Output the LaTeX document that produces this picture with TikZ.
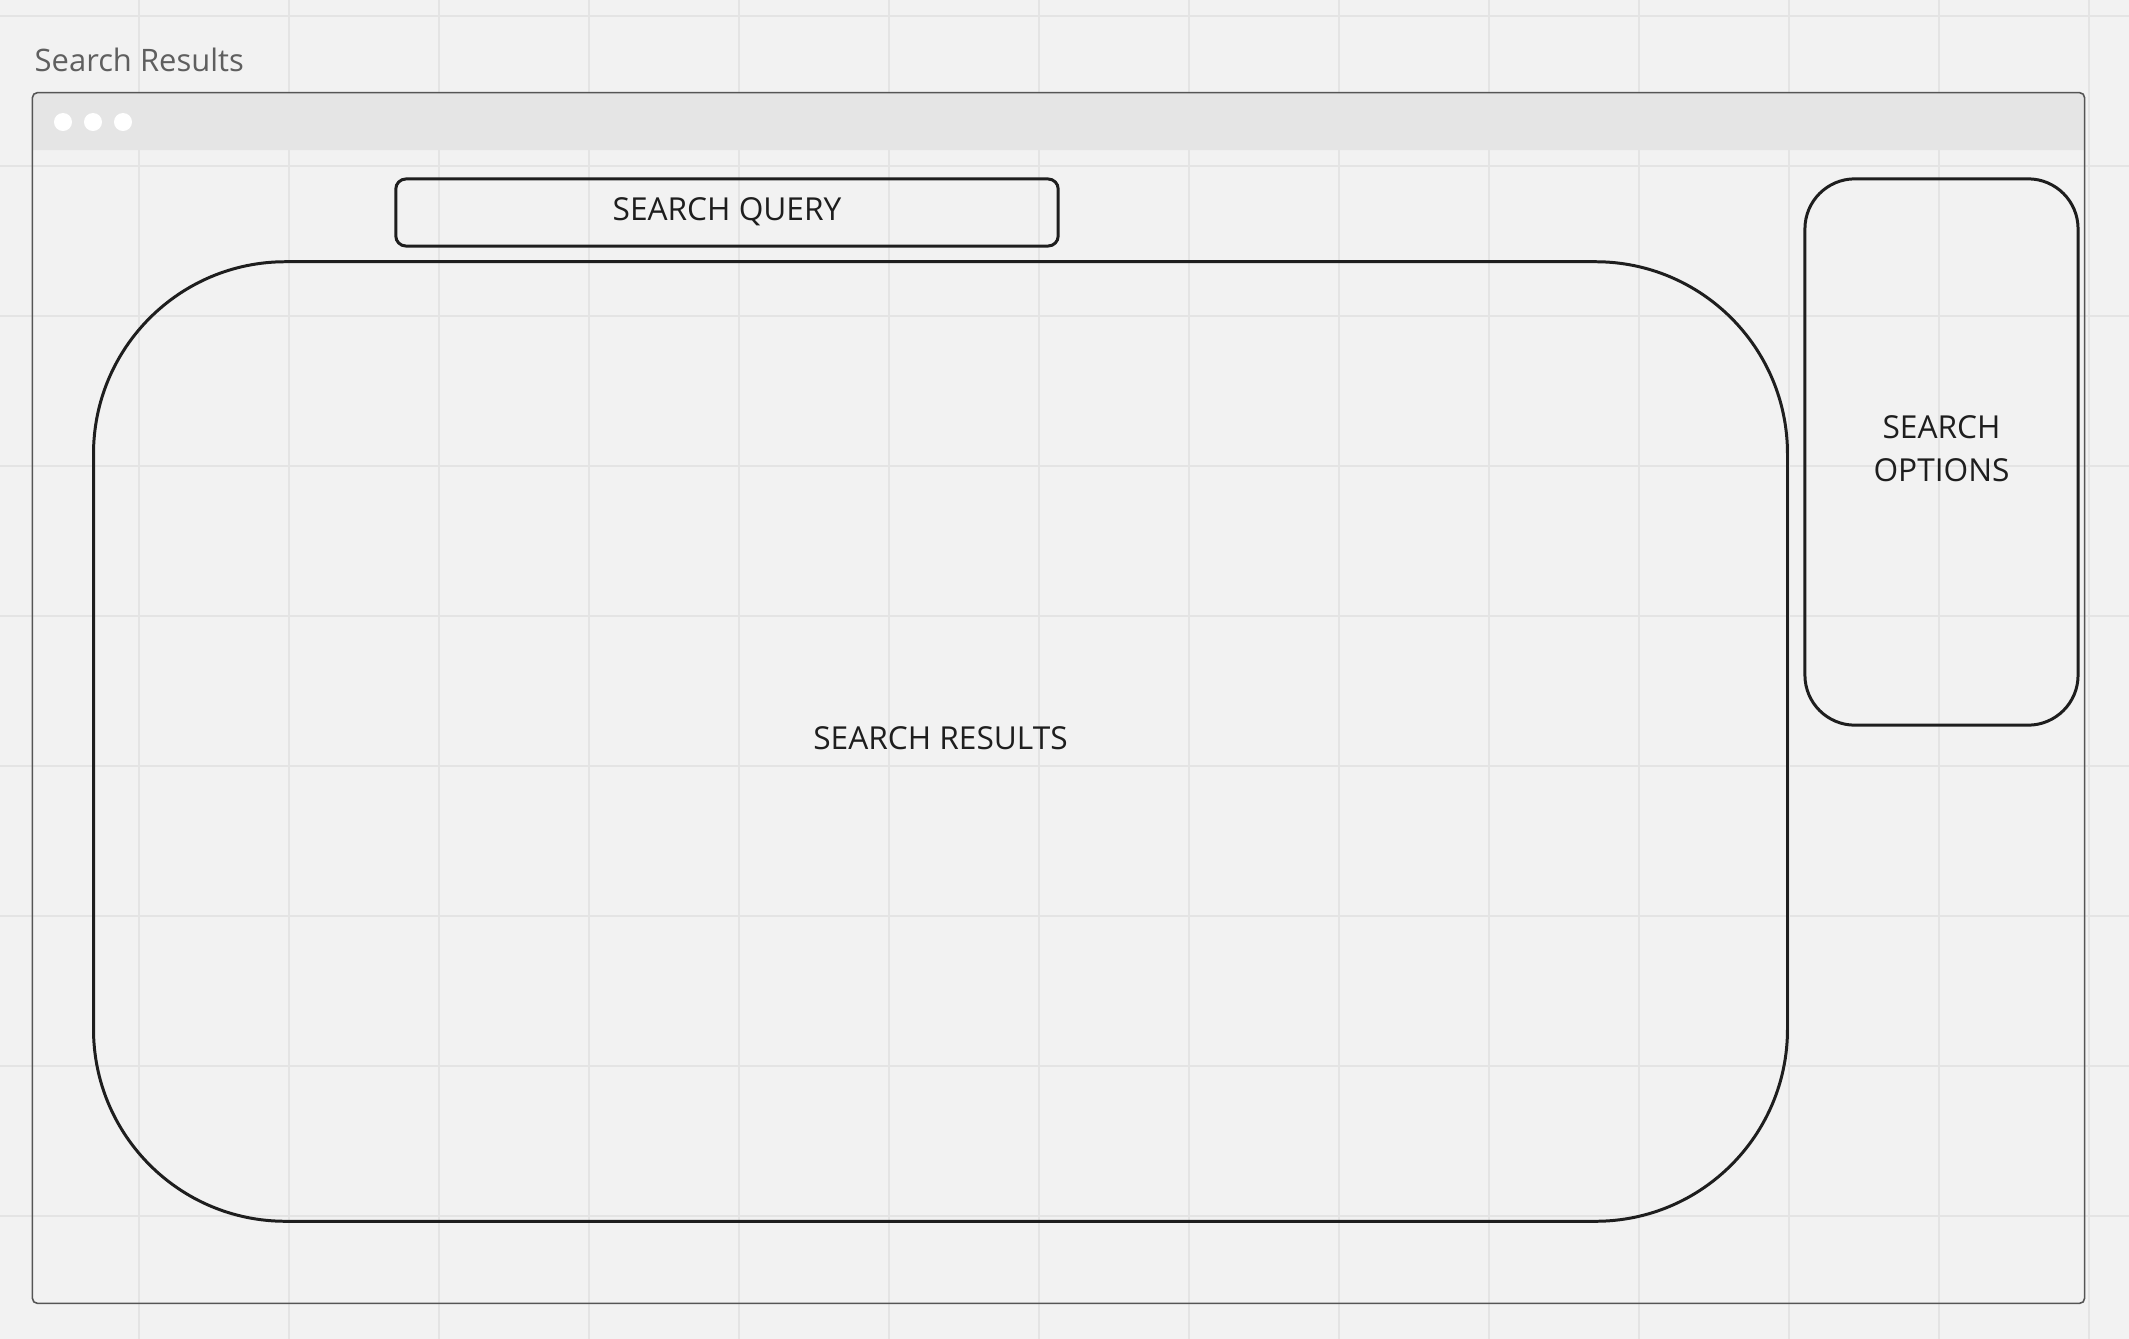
\documentclass[tikz,border=0pt]{standalone}
\usepackage{fontspec}
\setmainfont{Open Sans}
\usepackage{xcolor}
\usepackage{tikz}
\usetikzlibrary{positioning}

\definecolor{canvas}{HTML}{F2F2F2}
\definecolor{gridcol}{HTML}{E4E4E4}
\definecolor{barcol}{HTML}{E5E5E5}
\definecolor{framecol}{HTML}{555555}
\definecolor{inkcol}{HTML}{1E1E1E}
\definecolor{titlecol}{HTML}{5F5F5F}

\begin{document}
\begin{tikzpicture}[x=0.01cm, y=-0.01cm,
            font=\fontsize{9}{12.2}\selectfont,
            gridline/.style={draw=gridcol, line width=0.45pt},
            window/.style={draw=framecol, line width=0.45pt, rounded corners=0.05cm, inner sep=0pt},
            wirebox/.style={draw=inkcol, line width=0.85pt, inner sep=0pt, align=center, text=inkcol, text depth=0.07cm}]

            \useasboundingbox (0,0) rectangle (2129,1339);
            \fill[canvas] (0,0) rectangle (2129,1339);

            % grid
            \foreach \x in {139,289,...,2089}
                \draw[gridline] (\x,0) -- (\x,1339);
            \foreach \y in {16,166,...,1216}
                \draw[gridline] (0,\y) -- (2129,\y);

            \node[anchor=base west, inner sep=0pt, text=titlecol, font=\fontsize{8.8}{10}\selectfont] (title) at (34,71) {Search Results};

            % browser window
            \fill[barcol] (33,150) {[rounded corners=0.05cm] -- (33,93) -- (2084,93)} -- (2084,150) -- cycle;
            \node[window, minimum width=20.51cm, minimum height=12.10cm] (win) at (1058.5,698) {};
            \foreach \x in {63,93,123}
                \fill[white] (\x,122) circle (0.09cm);

            \node[wirebox, rounded corners=0.1cm, minimum width=6.62cm, minimum height=0.67cm] (query) at (727,212.5) {SEARCH QUERY};
            \node[wirebox, rounded corners=1.92cm, minimum width=16.93cm, minimum height=9.59cm] (results) at (940.5,741.5) {SEARCH RESULTS};
            \node[wirebox, rounded corners=0.5cm, minimum width=2.73cm, minimum height=5.46cm] (options) at (1941.5,452) {SEARCH\\OPTIONS};
        \end{tikzpicture}
\end{document}
